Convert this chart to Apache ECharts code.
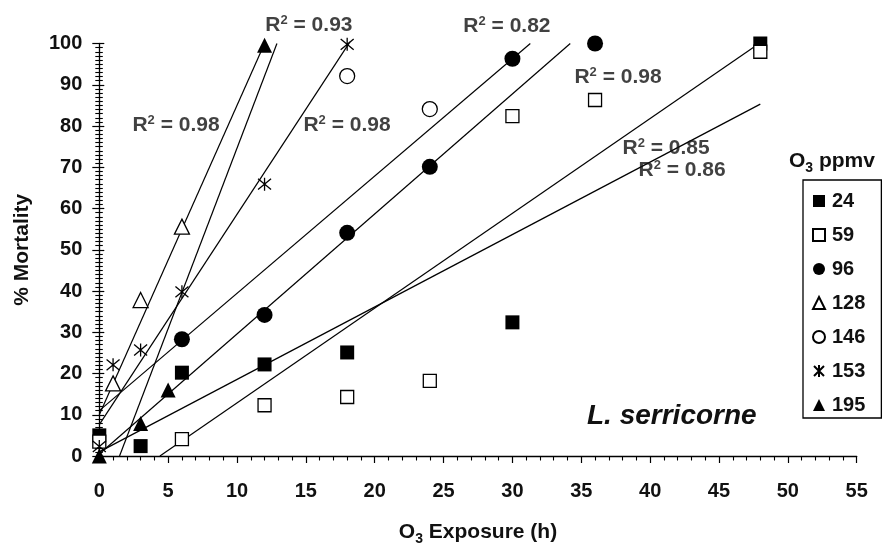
<!DOCTYPE html>
<html>
<head>
<meta charset="utf-8">
<script src="https://cdn.jsdelivr.net/npm/echarts@6/dist/echarts.min.js"></script>
<style>
html,body{margin:0;padding:0;background:#fff;}
#chart{width:885px;height:543px;}
</style>
</head>
<body>
<div id="chart"></div>
<script>
// ---- Data ----
const seriesNames = ['24', '59', '96', '128', '146', '153', '195'];

const hours24 = [0, 3, 6, 12, 18, 30, 48];
const mort24  = [5, 2.4, 20.2, 22.2, 25.1, 32.4, 100];

const hours59 = [0, 6, 12, 18, 24, 30, 36, 48];
const mort59  = [3.5, 4.1, 12.3, 14.3, 18.2, 82.4, 86.3, 98.0];

const hours96 = [6, 12, 18, 24, 30, 36];
const mort96  = [28.3, 34.2, 54.1, 70.1, 96.3, 100];

const hours128 = [1, 3, 6];
const mort128  = [17.6, 37.8, 55.6];

const hours146 = [18, 24];
const mort146  = [92.1, 84.1];

const hours153 = [0, 1, 3, 6, 12, 18];
const mort153  = [2.3, 22.1, 25.7, 39.8, 65.9, 99.8];

const hours195 = [0, 3, 5, 12];
const mort195  = [0, 7.9, 16, 99.6];

// Trend lines: start and end points
const trendStartX = [0,   4.4, 0,   0,  0,  0,   1.47];
const trendStartY = [1.0, 0,   0.5, 10, 11, 7.6, 0];
const trendEndX   = [48,  47.7, 34.2, 12,  31.3, 18.2, 12.9];
const trendEndY   = [85.3, 99.5, 100, 100, 100, 100.4, 100];

// R² annotations (anchored in data coordinates)
const r2Text = ['0.98', '0.93', '0.98', '0.82', '0.98', '0.85', '0.86'];
const r2X    = [5.57, 15.22, 17.99, 29.6, 37.67, 41.16, 42.32];
const r2Y    = [80.2, 104.5, 80.2, 104.2, 91.9, 74.7, 69.3];

// ---- Styling ----
const FONT = '"Liberation Sans", Arial, Helvetica, sans-serif';
const INK = '#111';
const asterisk = 'path://M0,0L10,10M10,0L0,10M5,-1L5,11';

function pairs(xs, ys) { return xs.map((x, i) => [x, ys[i]]); }

const markerDefs = [
  { name: '24',  x: hours24,  y: mort24,  symbol: 'rect',     size: 14, fill: '#000', border: '#000', bw: 0 },
  { name: '59',  x: hours59,  y: mort59,  symbol: 'rect',     size: 13, fill: '#fff', border: '#000', bw: 1.3 },
  { name: '96',  x: hours96,  y: mort96,  symbol: 'circle',   size: 16, fill: '#000', border: '#000', bw: 0 },
  { name: '128', x: hours128, y: mort128, symbol: 'triangle', size: 15, fill: '#fff', border: '#000', bw: 1.3 },
  { name: '146', x: hours146, y: mort146, symbol: 'circle',   size: 15, fill: '#fff', border: '#000', bw: 1.3 },
  { name: '153', x: hours153, y: mort153, symbol: asterisk,   size: 13, fill: 'rgba(0,0,0,0)', border: '#000', bw: 1.3 },
  { name: '195', x: hours195, y: mort195, symbol: 'triangle', size: 15, fill: '#000', border: '#000', bw: 0 }
];

const series = [];

// trend lines first (drawn beneath markers)
for (let i = 0; i < trendStartX.length; i++) {
  series.push({
    type: 'line',
    name: 'trend' + i,
    data: [[trendStartX[i], trendStartY[i]], [trendEndX[i], trendEndY[i]]],
    symbol: 'none',
    silent: true,
    clip: false,
    z: 2,
    lineStyle: { color: '#000', width: 1.2 }
  });
}

markerDefs.forEach(d => {
  series.push({
    type: 'scatter',
    name: d.name,
    data: pairs(d.x, d.y),
    symbol: d.symbol,
    symbolSize: d.size,
    clip: false,
    z: 3,
    itemStyle: { color: d.fill, borderColor: d.border, borderWidth: d.bw, opacity: 1 },
    emphasis: { disabled: true }
  });
});

// R² labels
series.push({
  type: 'scatter',
  name: 'r2labels',
  data: r2X.map((x, i) => ({ value: [x, r2Y[i]], txt: r2Text[i] })),
  symbolSize: 0,
  silent: true,
  clip: false,
  z: 5,
  label: {
    show: true,
    position: 'inside',
    formatter: p => '{r|R}{s|2}{r| = ' + p.data.txt + '}',
    rich: {
      r: { fontFamily: FONT, fontWeight: 'bold', fontSize: 21, lineHeight: 22, color: INK },
      s: { fontFamily: FONT, fontWeight: 'bold', fontSize: 13, lineHeight: 13, verticalAlign: 'top', color: INK }
    }
  }
});

const chart = echarts.init(document.getElementById('chart'), null, { renderer: 'canvas' });

chart.setOption({
  animation: false,
  backgroundColor: '#fff',
  grid: { left: 99.3, right: 28.3, top: 43.5, bottom: 87, containLabel: false, outerBoundsMode: 'none' },
  title: {
    text: '{a|O}{b|3}{a| ppmv}',
    left: 789, top: 149, padding: 0,
    textStyle: {
      rich: {
        a: { fontFamily: FONT, fontWeight: 'bold', fontSize: 21, color: INK, lineHeight: 24 },
        b: { fontFamily: FONT, fontWeight: 'bold', fontSize: 14, color: INK, lineHeight: 24, verticalAlign: 'bottom', padding: [0, 0, -2, 0] }
      }
    }
  },
  legend: {
    orient: 'vertical',
    left: 803, top: 180,
    padding: [11, 16, 3, 9],
    itemGap: 14,
    itemWidth: 12, itemHeight: 12,
    borderColor: '#000', borderWidth: 1.3,
    backgroundColor: '#fff',
    selectedMode: false,
    textStyle: { fontFamily: FONT, fontWeight: 'bold', fontSize: 20, color: INK, padding: [0, 0, 0, 2] },
    data: seriesNames.map(n => ({ name: n }))
  },
  xAxis: {
    type: 'value', min: 0, max: 55, interval: 5,
    name: '{n|O}{sub|3}{n| Exposure (h)}',
    nameLocation: 'middle', nameGap: 64,
    nameTextStyle: {
      rich: {
        n: { fontFamily: FONT, fontWeight: 'bold', fontSize: 21, color: INK, lineHeight: 24 },
        sub: { fontFamily: FONT, fontWeight: 'bold', fontSize: 14, color: INK, lineHeight: 24, verticalAlign: 'bottom', padding: [0, 0, -2, 0] }
      }
    },
    axisLine: { show: true, lineStyle: { color: '#000', width: 1.3 } },
    axisTick: { show: true, length: 7, lineStyle: { color: '#000', width: 1.2 } },
    minorTick: { show: true, splitNumber: 5, length: 4.5, lineStyle: { color: '#000', width: 1.1 } },
    axisLabel: { fontFamily: FONT, fontWeight: 'bold', fontSize: 20, color: INK, margin: 25 },
    splitLine: { show: false }
  },
  yAxis: [{
    type: 'value', min: 0, max: 100, interval: 10,
    name: '% Mortality',
    nameLocation: 'middle', nameGap: 67,
    nameTextStyle: { fontFamily: FONT, fontWeight: 'bold', fontSize: 21, color: INK },
    axisLine: { show: true, lineStyle: { color: '#000', width: 1.3 } },
    axisTick: { show: true, length: 7, lineStyle: { color: '#000', width: 1.2 } },
    minorTick: { show: true, splitNumber: 10, length: 4, lineStyle: { color: '#000', width: 1.1 } },
    axisLabel: { fontFamily: FONT, fontWeight: 'bold', fontSize: 20, color: INK, margin: 17 },
    splitLine: { show: false }
  }, {
    type: 'value', min: 0, max: 100, interval: 10, position: 'left',
    axisLine: { show: false },
    axisTick: { show: true, inside: true, length: 5, lineStyle: { color: '#000', width: 1.2 } },
    minorTick: { show: true, splitNumber: 10, length: 3.5, lineStyle: { color: '#000', width: 1.1 } },
    axisLabel: { show: false },
    splitLine: { show: false }
  }],
  graphic: [{
    type: 'text',
    left: 587, top: 402,
    style: {
      text: 'L. serricorne',
      font: 'italic bold 28px ' + FONT,
      fill: INK
    }
  }],
  series: series
});
</script>
</body>
</html>
